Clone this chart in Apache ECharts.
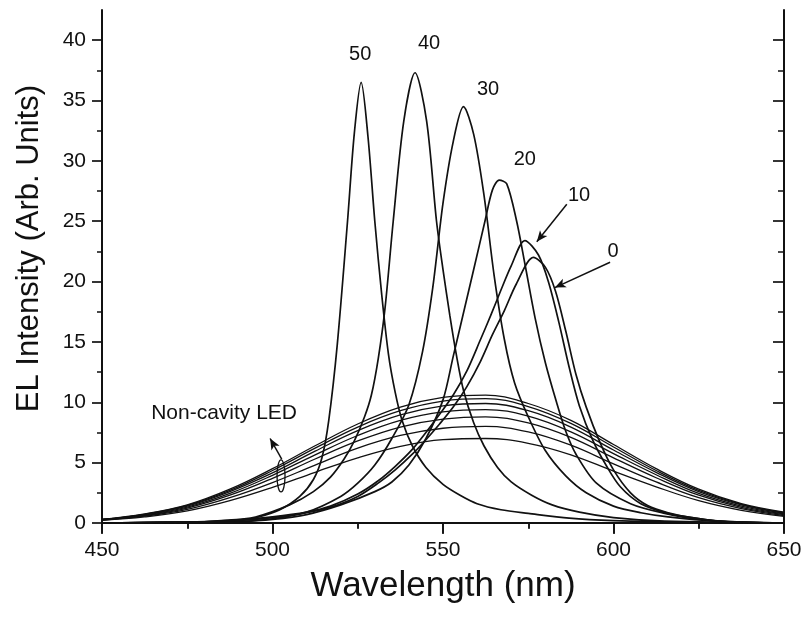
<!DOCTYPE html>
<html>
<head>
<meta charset="utf-8">
<script src="https://cdn.jsdelivr.net/npm/echarts@6/dist/echarts.min.js"></script>
<style>
  html, body { margin: 0; background: #fff; }
  #chart { width: 812px; height: 620px; }
</style>
</head>
<body>
<div id="chart"></div>
<script>
// wavelength grid shared by the non-cavity LED spectra (nm)
const ledWl = [450, 462.5, 475, 487.5, 500, 512.5, 525, 537.5, 550, 562.5, 575, 587.5, 600, 612.5, 625, 637.5, 650];
const led1 = [0.3, 0.75, 1.5, 2.8, 4.5, 6.4, 8.2, 9.6, 10.4, 10.6, 9.9, 8.5, 6.5, 4.5, 2.8, 1.6, 0.9];
const led2 = [0.3, 0.72, 1.45, 2.7, 4.35, 6.2, 7.95, 9.3, 10.1, 10.3, 9.65, 8.25, 6.3, 4.35, 2.7, 1.55, 0.85];
const led3 = [0.3, 0.7, 1.4, 2.6, 4.15, 5.95, 7.65, 8.95, 9.7, 9.9, 9.3, 7.95, 6.05, 4.2, 2.6, 1.5, 0.8];
const led4 = [0.28, 0.66, 1.32, 2.45, 3.95, 5.65, 7.25, 8.5, 9.2, 9.4, 8.85, 7.55, 5.75, 4.0, 2.45, 1.4, 0.75];
const led5 = [0.27, 0.62, 1.24, 2.3, 3.7, 5.3, 6.8, 7.95, 8.6, 8.8, 8.3, 7.1, 5.4, 3.75, 2.3, 1.3, 0.7];
const led6 = [0.25, 0.57, 1.13, 2.1, 3.35, 4.8, 6.2, 7.25, 7.85, 8.0, 7.55, 6.45, 4.9, 3.4, 2.1, 1.2, 0.62];
const led7 = [0.22, 0.5, 1.0, 1.85, 2.95, 4.2, 5.4, 6.35, 6.9, 7.0, 6.6, 5.65, 4.3, 3.0, 1.85, 1.05, 0.55];

// microcavity spectra, [wavelength, intensity]
const cav50 = [[450,0],[480,0.1],[490,0.25],[496,0.5],[502,1.07],[508,2.2],[512,3.6],[514.5,5.4],[516.5,8.5],[519,14.8],[522,25],[524,32.3],[526,36.5],[528,32],[530,25],[532,19],[534,14],[536,10.8],[538,8.5],[541,6.4],[545,4.6],[550,3.2],[555,2.3],[560,1.6],[567,1.1],[575,0.8],[587,0.4],[600,0.2],[625,0.05],[650,0]];
const cav40 = [[450,0],[475,0.08],[485,0.2],[495,0.5],[505,1.5],[512,2.6],[517,3.8],[521,5.3],[524,6.8],[527,8.8],[529,10.6],[531,13.6],[533,17.8],[535.4,25],[538.5,33.3],[541.8,37.3],[545.2,33.3],[548.1,25],[550,21],[552,17.2],[554,13.8],[556,11],[559,8.3],[562,6.4],[566,4.6],[570,3.4],[576,2.3],[582,1.5],[590,0.9],[600,0.45],[615,0.15],[650,0]];
const cav30 = [[450,0],[480,0.05],[490,0.12],[500,0.35],[510,0.9],[520,2.2],[525,3.3],[530,4.8],[535,7.0],[540,9.8],[544,14.2],[547,19.5],[550,26.5],[553,31.6],[556,34.5],[559,32.2],[562,27.2],[565,20.5],[568,15.2],[571,11.6],[575,8.8],[580,6.0],[586,3.9],[592,2.5],[600,1.4],[608,0.85],[616,0.5],[630,0.15],[650,0]];
const cav20 = [[450,0],[480,0.04],[490,0.1],[500,0.3],[510,0.7],[520,1.5],[530,2.6],[535,3.4],[540,4.8],[545,7.0],[550,10.2],[553,13.8],[556,17.4],[559,21],[562.3,25],[564.5,27.6],[566.5,28.4],[568.7,28.1],[571.6,25],[574,21.5],[577,17],[580,13.3],[583.3,10],[586,7.6],[589,5.7],[595,3.3],[605,1.6],[615,0.8],[625,0.3],[640,0.05],[650,0]];
const cav10 = [[450,0],[480,0.1],[490,0.25],[500,0.5],[510,0.9],[517,1.4],[525,2.4],[531,3.5],[536,4.7],[541,6.1],[545,7.5],[549,9.0],[553,10.6],[557,12.6],[561,15.2],[564,17.2],[567,19.3],[570,21.3],[574,23.4],[578,22.2],[581,19.9],[584,16.6],[587,12.9],[590,9.7],[594,6.8],[598,4.7],[602,3.0],[608,1.6],[616,0.8],[624,0.4],[632,0.12],[650,0]];
const cav0 = [[450,0],[480,0.1],[490,0.22],[500,0.45],[510,0.85],[517,1.3],[525,2.2],[531,3.3],[536,4.4],[541,5.7],[545,6.9],[549,8.2],[553,9.6],[557,11.3],[561,13.4],[564.5,15.6],[568,17.6],[571.5,19.8],[576.5,22.0],[580,21.2],[583,19.2],[586,15.9],[589,12.3],[592,9.6],[596,6.7],[600,4.4],[605,2.5],[610,1.45],[616,0.85],[624,0.4],[632,0.12],[650,0]];

// annotations
const peakLabels = [['50', 525.7, 38.8], ['40', 545.9, 39.7], ['30', 563.2, 35.9], ['20', 574, 30.1], ['10', 589.9, 27.1], ['0', 599.9, 22.5]];
const arrow10 = [[586.3, 26.4], [577.5, 23.3]];
const arrow0 = [[599, 21.6], [582.8, 19.5]];
const ledText = ['Non-cavity LED', 485.8, 9.1];
const ledArrow = [[502.7, 5.3], [499.3, 7.0]];
const ledLoop = [502.5, 3.9];

const xTicks = [450, 500, 550, 600, 650];
const yTicks = [0, 5, 10, 15, 20, 25, 30, 35, 40];
const yMinor = [2.5, 7.5, 12.5, 17.5, 22.5, 27.5, 32.5, 37.5];

const ink = '#111';
const font = '"Liberation Sans", Arial, sans-serif';

const chart = echarts.init(document.getElementById('chart'));

const pair = (xs, ys) => xs.map((x, i) => [x, ys[i]]);

const series = [];
[led1, led2, led3, led4, led5, led6, led7].forEach((ys) => {
  series.push({
    type: 'line', data: pair(ledWl, ys), smooth: 0.4, showSymbol: false,
    lineStyle: { color: ink, width: 1.3 }, silent: true
  });
});
[cav50, cav40, cav30, cav20, cav10, cav0].forEach((d) => {
  series.push({
    type: 'line', data: d, smooth: 0.3, showSymbol: false,
    lineStyle: { color: ink, width: 1.7 }, silent: true
  });
});

// arrows drawn as markLines on the last curve
series[series.length - 1].markLine = {
  silent: true,
  symbol: ['none', 'arrow'],
  symbolSize: [7, 11],
  label: { show: false },
  lineStyle: { color: ink, width: 1.5, type: 'solid' },
  data: [
    [{ coord: arrow10[0] }, { coord: arrow10[1] }],
    [{ coord: arrow0[0] }, { coord: arrow0[1] }],
    [{ coord: ledArrow[0] }, { coord: ledArrow[1] }]
  ]
};

const yBase = { type: 'value', min: 0, max: 42.5, splitLine: { show: false } };

chart.setOption({
  animation: false,
  backgroundColor: '#fff',
  grid: { left: 102, right: 28, top: 10, bottom: 97, outerBoundsMode: 'none' },
  xAxis: [
    {
      type: 'value', min: 450, max: 650, interval: 50, position: 'bottom',
      name: 'Wavelength (nm)', nameLocation: 'middle', nameGap: 46,
      nameTextStyle: { color: ink, fontSize: 35, fontFamily: font },
      axisLine: { lineStyle: { color: ink, width: 2 } },
      axisTick: { length: 11, lineStyle: { color: ink, width: 1.7 } },
      minorTick: { show: true, splitNumber: 2, length: 6, lineStyle: { color: ink, width: 1.5 } },
      splitLine: { show: false },
      axisLabel: { color: ink, fontSize: 21, fontFamily: font, margin: 17,
        customValues: xTicks }
    },
    {
      type: 'value', min: 450, max: 650, interval: 50, position: 'top',
      axisLine: { lineStyle: { color: ink, width: 2 } },
      axisTick: { inside: true, length: 10, lineStyle: { color: ink, width: 1.7 } },
      minorTick: { show: true, splitNumber: 2, length: 5, lineStyle: { color: ink, width: 1.5 } },
      splitLine: { show: false },
      axisLabel: { show: false }
    }
  ],
  yAxis: [
    Object.assign({}, yBase, {
      position: 'left',
      name: 'EL Intensity (Arb. Units)', nameLocation: 'middle', nameGap: 57,
      nameTextStyle: { color: ink, fontSize: 31, fontFamily: font, padding: [0, 0, 0, 36] },
      axisLine: { show: true, lineStyle: { color: ink, width: 2 } },
      axisTick: { show: true, length: 10, customValues: yTicks, lineStyle: { color: ink, width: 1.7 } },
      axisLabel: { color: ink, fontSize: 21, fontFamily: font, margin: 16, customValues: yTicks }
    }),
    Object.assign({}, yBase, {
      position: 'left',
      axisLine: { show: false },
      axisTick: { show: true, length: 5, customValues: yMinor, lineStyle: { color: ink, width: 1.5 } },
      axisLabel: { show: false }
    }),
    Object.assign({}, yBase, {
      position: 'right',
      axisLine: { show: true, lineStyle: { color: ink, width: 2 } },
      axisTick: { show: true, inside: true, length: 11, customValues: yTicks, lineStyle: { color: ink, width: 1.7 } },
      axisLabel: { show: false }
    }),
    Object.assign({}, yBase, {
      position: 'right',
      axisLine: { show: false },
      axisTick: { show: true, inside: true, length: 6, customValues: yMinor, lineStyle: { color: ink, width: 1.5 } },
      axisLabel: { show: false }
    })
  ],
  series: series
});

// texts and the loop round the LED bundle, placed in data coordinates
const toPx = (pt) => chart.convertToPixel({ gridIndex: 0 }, pt);
const graphics = peakLabels.map(([t, x, y]) => {
  const p = toPx([x, y]);
  return {
    type: 'text', silent: true, x: p[0], y: p[1],
    style: { text: t, fill: ink, font: '20px ' + font, align: 'center', verticalAlign: 'middle' }
  };
});
const lp = toPx([ledText[1], ledText[2]]);
graphics.push({
  type: 'text', silent: true, x: lp[0], y: lp[1],
  style: { text: ledText[0], fill: ink, font: '21px ' + font, align: 'center', verticalAlign: 'middle' }
});
const c = toPx(ledLoop);
graphics.push({
  type: 'ellipse', silent: true,
  shape: { cx: c[0], cy: c[1], rx: 4, ry: 16 },
  style: { fill: 'none', stroke: ink, lineWidth: 1.3 }
});
chart.setOption({ graphic: graphics });
</script>
</body>
</html>
